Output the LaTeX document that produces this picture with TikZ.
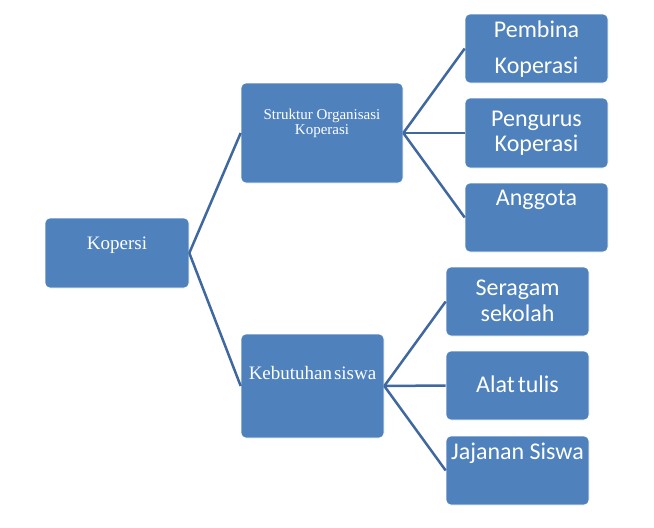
\documentclass[tikz,border=0pt]{standalone}
\usepackage{fontspec}
\setmainfont{Liberation Serif}
\newfontfamily\calibri{Carlito}
\usepackage{tikz}
\usetikzlibrary{positioning}
\definecolor{boxblue}{HTML}{4F81BD}
\definecolor{lineblue}{HTML}{3F67A0}

\begin{document}
\begin{tikzpicture}[
  x=1pt, y=-1pt,
  box/.style={rectangle, fill=boxblue, draw=white, line width=0.6pt,
    rounded corners=5pt, inner sep=0pt},
  lbl/.style={text=white, align=center, inner sep=0pt, anchor=base},
  serif/.style={font=\fontsize{19}{22}\selectfont},
  small/.style={font=\fontsize{15}{15}\selectfont},
  sans/.style={font=\calibri\fontsize{24}{25}\selectfont},
  link/.style={draw=lineblue, line width=2.5pt},
]
  \useasboundingbox (0,0) rectangle (654,528);

  %% Level 1: root
  \node[box, minimum width=144pt, minimum height=70pt] (kop) at (117,253) {};
  \node[lbl, serif] (kopt) at (117,249) {Kopersi};

  %% Level 2: the two branches (base = last line)
  \node[box, minimum width=162pt, minimum height=100pt] (struk) at (322,133) {};
  \node[lbl, small] (strukt) at (322,134) {Struktur Organisasi\\[0pt]Koperasi};
  \node[box, minimum width=143pt, minimum height=104pt] (kebut) at (312.5,386) {};
  \node[lbl, serif] (kebutt) at (312.5,379) {Kebutuhan\hspace{0.1em}siswa};

  %% Level 3: under Struktur Organisasi
  \node[box, minimum width=143pt, minimum height=69pt] (pemb) at (536.5,48.5) {};
  \node[lbl, sans] (pembt) at (536.5,73.3) {Pembina\\[11pt]Koperasi};
  \node[box, minimum width=143pt, minimum height=70pt] (peng) at (536.5,133) {};
  \node[lbl, sans] (pengt) at (536.5,151.7) {Pengurus\\Koperasi};
  \node[box, minimum width=143pt, minimum height=69pt] (angg) at (536.5,217.5) {};
  \node[lbl, sans] (anggt) at (536.5,205) {Anggota};

  %% Level 3: under Kebutuhan siswa
  \node[box, minimum width=143pt, minimum height=69pt] (serg) at (517.5,301.5) {};
  \node[lbl, sans] (sergt) at (517.5,321.7) {Seragam\\[1.5pt]sekolah};
  \node[box, minimum width=143pt, minimum height=69pt] (alat) at (517.5,385.5) {};
  \node[lbl, sans] (alatt) at (517.5,392) {Alat\hspace{0.12em}tulis};
  \node[box, minimum width=143pt, minimum height=69pt] (jaja) at (517.5,470.5) {};
  \node[lbl, sans] (jajat) at (517.5,459) {Jajanan Siswa};

  %% Connectors
  \draw[link] (kop.east) -- (struk.west);
  \draw[link] (kop.east) -- (kebut.west);
  \draw[link] (struk.east) -- (pemb.west);
  \draw[link] (struk.east) -- (peng.west);
  \draw[link] (struk.east) -- (angg.west);
  \draw[link] (kebut.east) -- (serg.west);
  \draw[link] (kebut.east) -- (alat.west);
  \draw[link] (kebut.east) -- (jaja.west);
\end{tikzpicture}
\end{document}
